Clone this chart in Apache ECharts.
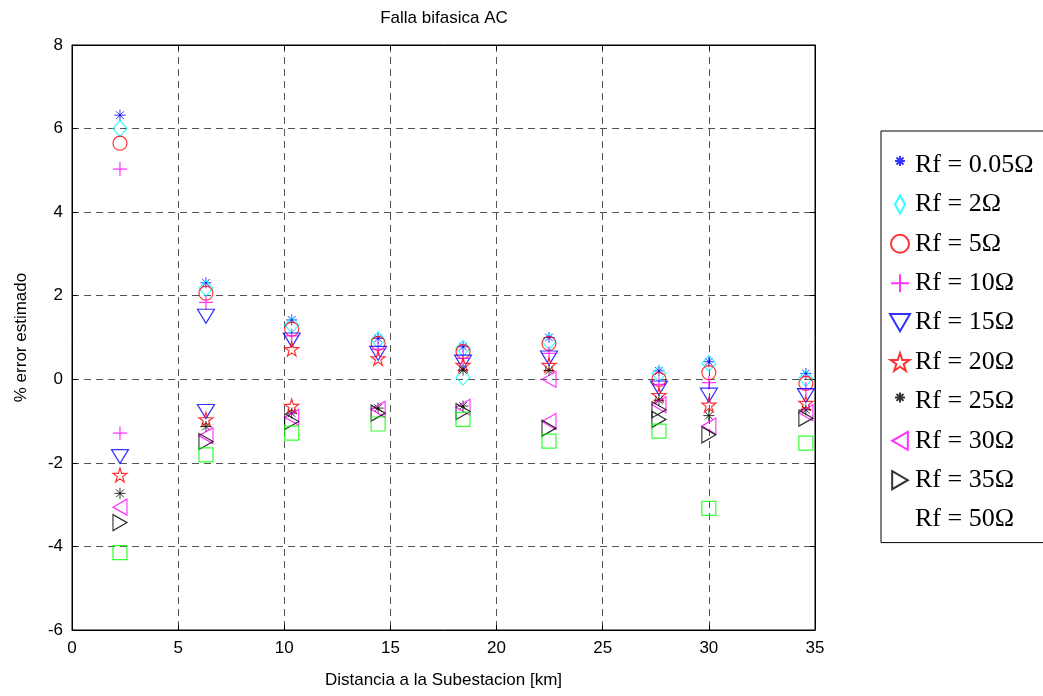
<!DOCTYPE html>
<html>
<head>
<meta charset="utf-8">
<title>Falla bifasica AC</title>
<script src="https://cdn.jsdelivr.net/npm/echarts@6/dist/echarts.min.js"></script>
<style>
  html, body { margin: 0; padding: 0; background: #fff; }
  #chart { width: 1043px; height: 696px; }
</style>
</head>
<body>
<div id="chart"></div>
<script>
// Distance from the substation (km) for each estimated fault location
const distanciaKm = [2.26, 6.31, 10.35, 14.42, 18.42, 22.47, 27.65, 30.0, 34.57];

// Estimated error (%) per fault resistance; the "B" arrays hold a second reading at the same distance
const rf005 = [6.32, 2.31, 1.42, 0.98, 0.78, 1.00, 0.20, 0.42, 0.14];
const rf2 = [6.00, 2.18, 1.30, 0.94, 0.74, 0.90, 0.13, 0.38, 0.02];
const rf2B = [null, null, null, null, 0.05, null, null, null, null];
const rf5 = [5.65, 2.06, 1.20, 0.86, 0.66, 0.86, 0.00, 0.16, -0.10];
const rf10 = [5.03, 1.84, 1.04, 0.72, 0.50, 0.62, -0.12, -0.08, -0.23];
const rf10B = [-1.29, null, null, null, null, null, null, null, null];
const rf15 = [null, 1.51, 0.94, 0.62, 0.41, 0.51, -0.21, -0.38, -0.39];
const rf15B = [-1.85, -0.77, null, null, null, null, null, null, null];
const rf20 = [null, null, 0.72, 0.50, 0.34, 0.34, -0.38, -0.61, -0.57];
const rf20B = [-2.29, -0.96, -0.64, null, null, null, null, null, null];
const rf25 = [-2.73, -1.13, -0.81, -0.69, 0.22, 0.21, -0.50, -0.87, -0.73];
const rf25B = [null, null, null, null, -0.64, null, null, null, null];
const rf30 = [-3.06, -1.35, -0.91, -0.72, -0.67, -1.01, -0.61, -1.12, -0.80];
const rf30B = [null, null, null, null, null, 0.00, null, null, null];
const rf35 = [-3.43, -1.49, -1.01, -0.81, -0.77, -1.17, -0.73, -1.33, -0.93];
const rf35B = [null, null, null, null, null, null, -0.96, null, null];
const rf50 = [-4.15, -1.81, -1.29, -1.07, -0.96, -1.48, -1.24, -3.09, -1.53];

const seriesNames = ['Rf = 0.05Ω', 'Rf = 2Ω', 'Rf = 5Ω', 'Rf = 10Ω', 'Rf = 15Ω',
  'Rf = 20Ω', 'Rf = 25Ω', 'Rf = 30Ω', 'Rf = 35Ω', 'Rf = 50Ω'];
const seriesValues = [[rf005], [rf2, rf2B], [rf5], [rf10, rf10B], [rf15, rf15B],
  [rf20, rf20B], [rf25, rf25B], [rf30, rf30B], [rf35, rf35B], [rf50]];

const xTicks = { min: 0, max: 35, step: 5 };
const yTicks = { min: -6, max: 8, step: 2 };

// Marker outlines (drawn unfilled)
const ASTERISK = 'path://M5,0L5,10M0,5L10,5M1.5,1.5L8.5,8.5M1.5,8.5L8.5,1.5';
const PLUS = 'path://M5,0L5,10M0,5L10,5';
const TRI_DOWN = 'path://M0,0L10,0L5,8.7Z';
const TRI_LEFT = 'path://M8.7,0L0,5L8.7,10Z';
const TRI_RIGHT = 'path://M0,0L8.7,5L0,10Z';
const STAR = 'path://M10,0L12.245,6.91L19.51,6.91L13.63,11.18L15.88,18.09L10,13.82L4.12,18.09L6.37,11.18L0.49,6.91L7.755,6.91Z';
// Legend icons: asterisks sit small in the upper part of the icon box, diamond kept narrow
const ASTERISK_ICON = 'path://M0,0M20,18M10,0L10,10M5,5L15,5M6.5,1.5L13.5,8.5M6.5,8.5L13.5,1.5';
const DIAMOND_ICON = 'path://M0,0M20,18M10,0L15,9L10,18L5,9Z';

const markerStyles = [
  { symbol: ASTERISK, icon: ASTERISK_ICON, size: 11, color: '#0000ff', width: 1 },
  { symbol: 'diamond', icon: DIAMOND_ICON, size: [14, 16], color: '#00ffff', width: 1.2 },
  { symbol: 'circle', size: 14, color: '#ff0000', width: 1.2 },
  { symbol: PLUS, size: 14, color: '#ff00ff', width: 1.2 },
  { symbol: TRI_DOWN, size: [17, 14], color: '#0000ff', width: 1.2 },
  { symbol: STAR, size: 14, color: '#ff0000', width: 1.2 },
  { symbol: ASTERISK, icon: ASTERISK_ICON, size: 11, color: '#000000', width: 1 },
  { symbol: TRI_LEFT, size: [14, 16], color: '#ff00ff', width: 1.2 },
  { symbol: TRI_RIGHT, size: [14, 16], color: '#000000', width: 1.2 },
  { symbol: 'rect', size: 14, color: '#00ff00', width: 1.2 }
];

function toPoints(arrays) {
  const pts = [];
  arrays.forEach(function (arr) {
    arr.forEach(function (v, i) {
      if (v !== null) pts.push([distanciaKm[i], v]);
    });
  });
  return pts;
}

const series = seriesNames.map(function (name, k) {
  const m = markerStyles[k];
  return {
    name: name,
    type: 'scatter',
    xAxisIndex: 0,
    yAxisIndex: 0,
    symbol: m.symbol,
    symbolSize: m.size,
    itemStyle: { color: 'transparent', borderColor: m.color, borderWidth: m.width },
    emphasis: { disabled: true },
    data: toPoints(seriesValues[k]),
    z: 3
  };
});

const legendData = seriesNames.map(function (name, k) {
  const item = { name: name, icon: markerStyles[k].icon || markerStyles[k].symbol };
  if (k === seriesNames.length - 1) {
    item.itemStyle = { color: 'transparent', borderColor: 'transparent' };
  }
  return item;
});

const labelFont = { fontFamily: 'Liberation Sans, Arial, sans-serif', fontSize: 17, color: '#000' };
const gridLine = { show: true, lineStyle: { color: '#555', width: 1, type: [7, 5] } };

const chart = echarts.init(document.getElementById('chart'), null, { renderer: 'canvas' });
chart.setOption({
  animation: false,
  backgroundColor: '#fff',
  title: {
    text: 'Falla bifasica AC',
    left: 439,
    top: 5,
    textAlign: 'center',
    textStyle: { fontFamily: 'Liberation Sans, Arial, sans-serif', fontSize: 17, fontWeight: 'normal', color: '#000' }
  },
  grid: { left: 72, right: 228, top: 45, bottom: 66, show: true, borderColor: '#000', borderWidth: 1 },
  legend: {
    orient: 'vertical',
    left: 881,
    top: 131,
    padding: [21, 40, 10, 8],
    itemWidth: 20,
    itemHeight: 18,
    itemGap: 13.4,
    borderColor: '#000',
    borderWidth: 1,
    backgroundColor: '#fff',
    selectedMode: false,
    itemStyle: { borderWidth: 2 },
    textStyle: { fontFamily: 'Liberation Serif, Times New Roman, serif', fontSize: 26, color: '#000', lineHeight: 26 },
    data: legendData
  },
  xAxis: [{
    type: 'value', position: 'bottom',
    min: xTicks.min, max: xTicks.max, interval: xTicks.step,
    name: 'Distancia a la Subestacion [km]', nameLocation: 'middle', nameGap: 42,
    nameTextStyle: labelFont,
    axisLine: { show: true, onZero: false, lineStyle: { color: '#000' } },
    axisTick: { show: true, inside: true, length: 5, lineStyle: { color: '#000' } },
    axisLabel: Object.assign({ margin: 10 }, labelFont),
    splitLine: gridLine
  }, {
    type: 'value', position: 'top',
    min: xTicks.min, max: xTicks.max, interval: xTicks.step,
    axisLine: { show: true, onZero: false, lineStyle: { color: '#000' } },
    axisTick: { show: true, inside: true, length: 5, lineStyle: { color: '#000' } },
    axisLabel: { show: false },
    splitLine: { show: false }
  }],
  yAxis: [{
    type: 'value', position: 'left',
    min: yTicks.min, max: yTicks.max, interval: yTicks.step,
    name: '% error estimado', nameLocation: 'middle', nameGap: 42,
    nameTextStyle: labelFont,
    axisLine: { show: true, onZero: false, lineStyle: { color: '#000' } },
    axisTick: { show: true, inside: true, length: 5, lineStyle: { color: '#000' } },
    axisLabel: Object.assign({ margin: 9 }, labelFont),
    splitLine: gridLine
  }, {
    type: 'value', position: 'right',
    min: yTicks.min, max: yTicks.max, interval: yTicks.step,
    axisLine: { show: true, onZero: false, lineStyle: { color: '#000' } },
    axisTick: { show: true, inside: true, length: 5, lineStyle: { color: '#000' } },
    axisLabel: { show: false },
    splitLine: { show: false }
  }],
  series: series
});
</script>
</body>
</html>
